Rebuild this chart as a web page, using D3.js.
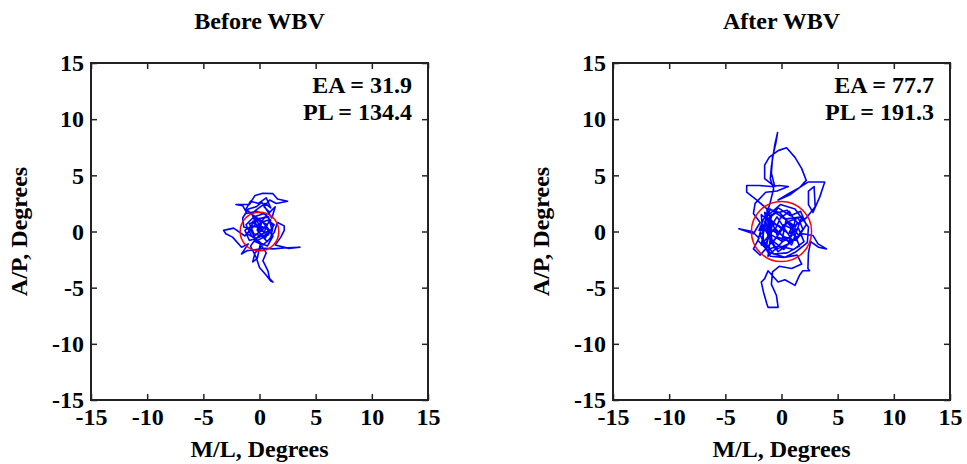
<!DOCTYPE html>
<html>
<head>
<meta charset="utf-8">
<script src="https://cdn.jsdelivr.net/npm/d3@7"></script>
<style>
  body { margin: 0; background: #fff; }
  text { font-family: "Liberation Serif", "Times New Roman", serif; font-weight: bold; fill: #000; }
</style>
</head>
<body>
<div id="chart"></div>
<script>
//////////
// Data //
//////////

var panelTitles = ["Before WBV", "After WBV"];
var tickValues = [-15, -10, -5, 0, 5, 10, 15];
var eaValues = ["31.9", "77.7"];
var plValues = ["134.4", "191.3"];
var circleRadius = [1.72, 2.68];

// Before WBV sway path (M/L, A/P in degrees)
var beforeML = [0.1,-0.6,0.5,-0.2,0.8,-0.4,0.3,1.0,1.2,0.6,-0.3,-1.1,-1.5,-2.1,-0.9,-0.6,-0.4,0.3,1.2,1.6,2.5,1.5,0.9,0.4,0.9,1.4,1.1,0.2,-0.3,-1.0,-1.5,-1.4,-0.8,-1.3,-2.3,-3.2,-3.0,-2.4,-1.6,-1.0,-1.6,-1.1,-0.3,0.5,1.2,2.4,3.6,2.6,1.4,1.9,2.2,2.2,1.6,1.3,0.7,0.2,-0.5,-0.9,-0.1,0.7,0.4,-0.3,-0.8,-0.3,0.0,0.6,1.0,1.2,0.9,0.75,0.3,0.6,0.2,-0.4,-0.6,-0.2,0.1,-0.7,-1.2,-0.6,0.3,0.9,0.5,-0.2,-0.1,0.7,1.3,0.8,0.0,-0.9,-1.3,-0.7,0.2,
	-0.5,0.4,1.0,0.3,-0.6,-1.1,-0.4,0.6,1.2,0.7,-0.2,-0.9,-0.3,0.8,1.1,0.1,-0.7,-0.2,0.5,1.0,0.6,-0.1,-0.8,-1.2,-0.5,0.2,0.0];
var beforeAP = [0.2,0.9,1.3,0.4,-0.3,-0.9,-1.2,-0.6,0.5,1.5,1.8,1.6,2.3,2.4,2.4,2.9,3.2,3.4,3.37,2.9,2.7,2.5,2.8,2.2,1.7,2.2,1.2,2.6,2.2,2.0,1.2,0.4,0.2,-0.4,0.3,0.1,-0.2,-0.5,-1.4,-1.1,-2.0,-1.7,-1.6,-1.5,-1.55,-1.45,-1.4,-1.5,-1.2,-0.5,0.1,0.5,0.8,-0.1,-0.9,-0.4,-0.2,0.7,1.0,0.6,-0.1,-0.6,-1.3,-2.3,-3.2,-3.9,-4.4,-4.5,-4.2,-3.5,-2.6,-1.9,-1.3,-1.9,-2.7,-2.4,-1.0,-0.4,0.6,1.2,0.8,0.1,-0.6,0.1,0.7,1.0,0.6,-0.2,-0.5,-0.8,0.1,0.5,0.3,
	1.3,1.6,1.0,0.2,-0.5,-0.2,0.6,0.3,-0.4,-1.3,-0.9,0.3,1.1,1.3,0.2,-0.3,1.6,2.0,2.5,2.1,3.0,2.5,2.7,2.0,1.4,0.9,-0.1];

// After WBV sway path (M/L, A/P in degrees)
var afterML = [0.2,-1.2,-0.8,0.5,1.6,-0.3,-1.6,-1.0,0.3,1.8,0.9,-0.6,-1.8,-1.3,-1.0,-0.7,-1.0,-0.9,-0.6,-0.35,-0.5,-0.8,-0.9,-0.6,-1.5,-1.5,-1.1,-0.3,0.45,1.2,1.8,2.2,1.6,0.8,-0.3,0.7,1.6,2.35,3.1,3.85,3.4,2.8,2.4,2.4,2.9,3.0,2.2,1.0,-0.2,-1.4,-2.2,-3.1,-3.1,-2.0,-0.9,-0.2,0.6,-0.4,-1.4,-2.35,-2.5,-1.9,-2.5,-3.8,-2.6,-2.0,-2.5,-1.9,-1.2,-0.4,0.8,1.9,2.8,3.25,4.0,3.3,2.6,2.4,2.35,2.5,1.9,1.6,1.2,0.3,-0.3,-1.2,-1.5,-1.8,-1.6,-1.3,-1.2,-0.3,-0.45,-0.9,-0.8,-0.2,0.9,1.8,1.4,0.2,-1.0,-1.7,-1.5,-0.6,0.5,1.4,0.9,0.1,-0.9,-1.1,-0.2,0.6,1.5,2.0,1.1,-0.2,-1.3,-1.9,-1.4,-0.9,-1.5,-1.2,-0.5,0.6,1.2,0.7,-0.1,-0.6,0.3,1.3,2.2,1.7,0.8,-0.3,-1.2,-1.8,-1.6,-0.7,0.5,1.6,1.0,0.2,-0.4,
	-1.3,-1.1,-0.9,-1.4,-0.8,-1.2,0.0,0.4,1.0,0.7,1.4,1.9,1.5,0.6,-0.3,-1.7,-2.1,-1.0,0.3,1.3,2.3,2.4,1.2,-0.1,-1.6,-2.0,-1.1,-0.4,0.9,0.2,-0.7];
var afterAP = [0.1,1.2,-1.0,0.8,-0.4,-1.8,0.4,2.0,1.1,1.3,-1.2,0.3,-1.2,1.6,2.6,3.8,4.7,5.8,7.7,8.8,7.9,6.6,5.2,4.0,4.7,5.9,6.6,7.2,7.45,6.6,5.6,4.55,3.9,3.3,2.8,3.4,3.9,4.4,4.4,4.4,3.06,1.7,2.4,3.6,4.0,2.2,1.2,0.4,1.7,2.1,2.8,3.5,4.1,4.1,4.0,4.1,4.0,3.6,3.5,2.5,1.6,0.8,-0.2,0.25,0.0,-0.6,-1.55,-2.1,-1.3,-0.5,-0.9,-0.2,-0.35,-1.1,-1.55,-1.4,-0.9,-1.9,-3.3,-3.5,-3.5,-3.9,-4.8,-4.3,-4.5,-3.5,-4.2,-4.5,-5.4,-6.45,-6.75,-6.75,-5.7,-4.7,-3.6,-3.1,-3.3,-2.9,-2.1,-2.3,-2.2,-1.0,0.9,1.6,1.9,0.8,-0.4,-0.9,-0.3,0.8,0.5,-0.2,0.3,-0.9,-1.6,-1.3,-1.6,-0.3,0.2,1.3,1.7,-0.4,-1.6,-1.1,0.9,1.8,1.2,0.1,-0.5,-0.8,0.6,1.8,1.4,2.1,1.0,1.5,-0.8,-2.0,-1.9,-1.3,0.2,0.6,-0.3,
	2.0,-0.5,1.5,-1.5,0.9,-2.2,-1.0,1.0,0.6,-0.1,-0.5,0.2,1.2,0.9,-0.2,0.6,-0.8,-1.9,-2.3,-1.8,-1.0,0.4,2.0,2.4,1.1,0.1,0.2,1.3,-0.7,-1.6,-0.9];

var panelML = [beforeML, afterML];
var panelAP = [beforeAP, afterAP];

///////////////////
// Initial setup //
///////////////////

var width = 967;
var height = 464;
var svg = d3.select("#chart").append("svg")
	.attr("width", width).attr("height", height);

// Box positions for the two panels
var boxLeft = [91, 613];
var boxTop = 63;
var boxSize = 337;

// Draw one panel
function drawPanel(i){
	var x0 = boxLeft[i];
	var x = d3.scaleLinear().domain([-15, 15]).range([x0, x0 + boxSize]);
	var y = d3.scaleLinear().domain([-15, 15]).range([boxTop + boxSize, boxTop]);
	var g = svg.append("g");

	// Sway trace
	var pts = panelML[i].map(function(d, k) { return [d, panelAP[i][k]]; });
	g.append("path")
		.attr("d", d3.line().x(function(d) { return x(d[0]); }).y(function(d) { return y(d[1]); })(pts))
		.attr("fill", "none")
		.attr("stroke", "#0000ff")
		.attr("stroke-width", 1.6)
		.attr("stroke-linejoin", "round");

	// Red circle
	g.append("circle")
		.attr("cx", x(0)).attr("cy", y(0))
		.attr("r", x(circleRadius[i]) - x(0))
		.attr("fill", "none")
		.attr("stroke", "#ff0000")
		.attr("stroke-width", 1.5);

	// Axes (ticks inward)
	function style(a){
		a.select(".domain").remove();
		a.selectAll("line").attr("stroke", "#222").attr("stroke-width", 1.5);
		a.selectAll("text").style("font-size", "24px").attr("fill", "#000");
	}
	g.append("g").attr("transform", "translate(0," + (boxTop + boxSize) + ")")
		.call(d3.axisBottom(x).tickValues(tickValues).tickSize(-6).tickPadding(8).tickFormat(function(d) { return String(d); }))
		.call(style);
	g.append("g").attr("transform", "translate(" + x0 + ",0)")
		.call(d3.axisLeft(y).tickValues(tickValues).tickSize(-6).tickPadding(7).tickFormat(function(d) { return String(d); }))
		.call(style);
	g.append("g").attr("transform", "translate(0," + boxTop + ")")
		.call(d3.axisTop(x).tickValues(tickValues).tickSize(-6).tickFormat(""))
		.call(style);
	g.append("g").attr("transform", "translate(" + (x0 + boxSize) + ",0)")
		.call(d3.axisRight(y).tickValues(tickValues).tickSize(-6).tickFormat(""))
		.call(style);

	// Frame
	g.append("rect")
		.attr("x", x0).attr("y", boxTop)
		.attr("width", boxSize).attr("height", boxSize)
		.attr("fill", "none")
		.attr("stroke", "#222")
		.attr("stroke-width", 2);

	// Title
	g.append("text")
		.text(panelTitles[i])
		.attr("x", x0 + boxSize / 2).attr("y", 29)
		.attr("text-anchor", "middle")
		.style("font-size", "24px");

	// Annotations
	g.append("text")
		.text("EA = " + eaValues[i])
		.attr("x", x0 + boxSize - 16).attr("y", boxTop + 30)
		.attr("text-anchor", "end")
		.style("font-size", "24px");
	g.append("text")
		.text("PL = " + plValues[i])
		.attr("x", x0 + boxSize - 16).attr("y", boxTop + 57)
		.attr("text-anchor", "end")
		.style("font-size", "24px");

	// Axis labels
	g.append("text")
		.text("M/L, Degrees")
		.attr("x", x0 + boxSize / 2).attr("y", 457)
		.attr("text-anchor", "middle")
		.style("font-size", "24px");
	g.append("text")
		.text("A/P, Degrees")
		.attr("transform", "translate(" + (x0 - 64) + "," + (boxTop + boxSize / 2) + ") rotate(-90)")
		.attr("text-anchor", "middle")
		.style("font-size", "24px");
}

// Run
drawPanel(0);
drawPanel(1);
</script>
</body>
</html>
